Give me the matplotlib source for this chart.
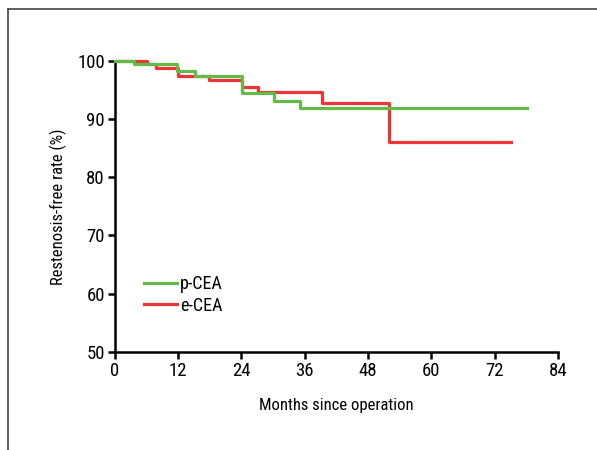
import matplotlib
matplotlib.use("Agg")
import matplotlib.pyplot as plt
from matplotlib.lines import Line2D
from matplotlib import font_manager

names = {f.name for f in font_manager.fontManager.ttflist}
fam = "DejaVu Sans"
for cand in ["Roboto Condensed", "Open Sans Condensed", "Asap Condensed", "Archivo Narrow",
             "Barlow Semi Condensed", "Barlow Condensed"]:
    if cand in names:
        fam = cand
        break
plt.rcParams['font.family'] = [fam, 'DejaVu Sans']

# Kaplan-Meier step data (months, survival %)
p_cea_t = [0, 3.7, 11.8, 15.2, 24.1, 30.1, 35.1, 78]
p_cea_s = [100, 99.4, 98.2, 97.3, 94.4, 93.1, 91.8, 91.8]
e_cea_t = [0, 6.2, 7.8, 12.0, 17.9, 24.1, 27.2, 39.2, 52.0, 75]
e_cea_s = [100, 99.4, 98.8, 97.4, 96.7, 95.5, 94.6, 92.8, 86.1, 86.1]

x_ticks = [0, 12, 24, 36, 48, 60, 72, 84]
y_ticks = [50, 60, 70, 80, 90, 100]

green = "#62BB46"
red = "#EE3434"
fs_tick = 13.5
fs_lab = 12
fs_leg = 13

fig = plt.figure(figsize=(5.97, 4.5), dpi=100)
ax = fig.add_axes([0.192, 0.218, 0.743, 0.647])

ax.step(p_cea_t, p_cea_s, where="post", color=green, lw=2.3, label="p-CEA", clip_on=False, zorder=3)
ax.step(e_cea_t, e_cea_s, where="post", color=red, lw=2.3, label="e-CEA", clip_on=False, zorder=2)

ax.set_xlim(0, 84)
ax.set_ylim(50, 100)
ax.set_xticks(x_ticks)
ax.set_yticks(y_ticks)
for s in ["top", "right"]:
    ax.spines[s].set_visible(False)
for s in ["left", "bottom"]:
    ax.spines[s].set_linewidth(1.8)
ax.tick_params(axis="both", width=1.8, length=5, labelsize=fs_tick, pad=2)
ax.set_xlabel("Months since operation", fontsize=fs_lab, labelpad=13)
ax.set_ylabel("Restenosis-free rate (%)", fontsize=fs_lab, labelpad=7)

leg = ax.legend(loc="upper left", bbox_to_anchor=(0.03, 0.32), frameon=False,
                fontsize=fs_leg, handlelength=1.8, handletextpad=0.2, labelspacing=0.2)

# figure border (top and left)
fig.add_artist(Line2D([8/597, 8/597], [0, 1 - 9/450], transform=fig.transFigure, color="#444444", lw=1.2))
fig.add_artist(Line2D([8/597, 1], [1 - 9/450, 1 - 9/450], transform=fig.transFigure, color="#444444", lw=1.2))

fig.savefig("out.png", dpi=100)
